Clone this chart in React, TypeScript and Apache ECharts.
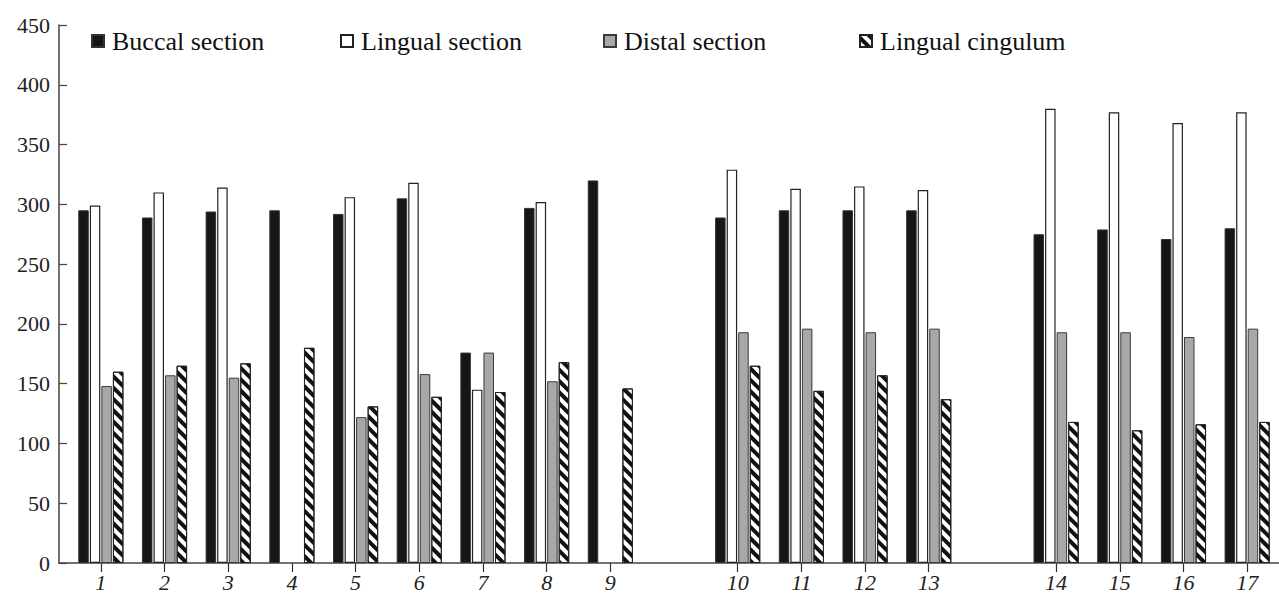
import React, { useEffect, useRef } from "react";
import * as echarts from "echarts";

const categories = ["1", "2", "3", "4", "5", "6", "7", "8", "9", "", "10", "11", "12", "13", "", "14", "15", "16", "17"];
const seriesNames = ["Buccal section", "Lingual section", "Distal section", "Lingual cingulum"];
const buccal = [295, 289, 294, 295, 292, 305, 176, 297, 320, null, 289, 295, 295, 295, null, 275, 279, 271, 280];
const lingual = [299, 310, 314, null, 306, 318, 145, 302, null, null, 329, 313, 315, 312, null, 380, 377, 368, 377];
const distal = [148, 157, 155, null, 122, 158, 176, 152, null, null, 193, 196, 193, 196, null, 193, 193, 189, 196];
const cingulum = [160, 165, 167, 180, 131, 139, 143, 168, 146, null, 165, 144, 157, 137, null, 118, 111, 116, 118];
const yTicks = { min: 0, max: 450, interval: 50 };

const FONT = "Liberation Serif";

export default function App() {
  const ref = useRef<HTMLDivElement>(null);
  useEffect(() => {
    if (!ref.current) return;
    const chart = echarts.init(ref.current, null, { renderer: "svg" });
    const styles = [
      { color: "#161616", borderColor: "#333", borderWidth: 1 },
      { color: "#ffffff", borderColor: "#222", borderWidth: 1.2 },
      { color: "#a8a8a8", borderColor: "#3a3a3a", borderWidth: 1 },
      {
        color: "#ffffff",
        borderColor: "#222",
        borderWidth: 1,
        decal: {
          symbol: "rect",
          symbolSize: 1,
          color: "#111",
          dashArrayX: [1, 0],
          dashArrayY: [4, 4],
          rotation: Math.PI / 4,
        },
      },
    ];
    const dataSets = [buccal, lingual, distal, cingulum];
    const legendLeft = [91, 340, 603, 859];
    const option: any = {
      animation: false,
      textStyle: { fontFamily: FONT },
      grid: [
        { left: 69, right: -9, top: 25, bottom: 30 },
        { left: 59, right: 0, top: 25, bottom: 30 },
      ],
      legend: seriesNames.map((n, i) => ({
        data: [n],
        left: legendLeft[i],
        top: 28,
        padding: 0,
        icon: "rect",
        itemWidth: 12,
        itemHeight: 12,
        textStyle: { fontFamily: FONT, fontSize: 26, color: "#111", padding: [0, 0, 0, 3] },
        selectedMode: false,
      })),
      xAxis: [
        {
          type: "category",
          gridIndex: 0,
          data: categories,
          axisLine: { show: false },
          axisTick: {
            show: true,
            alignWithLabel: true,
            length: 9,
            interval: (_i: number, v: string) => v !== "",
            lineStyle: { color: "#333", width: 1.2 },
          },
          axisLabel: {
            interval: 0,
            fontFamily: FONT,
            fontStyle: "italic",
            fontSize: 22,
            color: "#222",
            margin: 8,
          },
        },
        {
          type: "value",
          gridIndex: 1,
          min: 0,
          max: 1,
          axisLine: { show: true, lineStyle: { color: "#444", width: 1.5 } },
          axisTick: { show: false },
          axisLabel: { show: false },
          splitLine: { show: false },
        },
      ],
      yAxis: [
        {
          type: "value",
          gridIndex: 0,
          min: yTicks.min,
          max: yTicks.max,
          interval: yTicks.interval,
          offset: 10,
          axisLine: { show: true, lineStyle: { color: "#444", width: 1.5 } },
          axisTick: { show: true, inside: true, length: 8, lineStyle: { color: "#444", width: 1.2 } },
          axisLabel: { fontFamily: FONT, fontSize: 22, color: "#222", margin: 9 },
          splitLine: { show: false },
        },
        { type: "value", gridIndex: 1, min: yTicks.min, max: yTicks.max, show: false },
      ],
      series: seriesNames.map((n, i) => ({
        name: n,
        type: "bar",
        xAxisIndex: 0,
        yAxisIndex: 0,
        data: dataSets[i],
        barWidth: 10.5,
        barGap: "10%",
        itemStyle: styles[i],
      })),
    };
    chart.setOption(option);
    return () => chart.dispose();
  }, []);
  return <div ref={ref} style={{ width: 1279, height: 593, position: "absolute", left: 0, top: 0 }} />;
}
